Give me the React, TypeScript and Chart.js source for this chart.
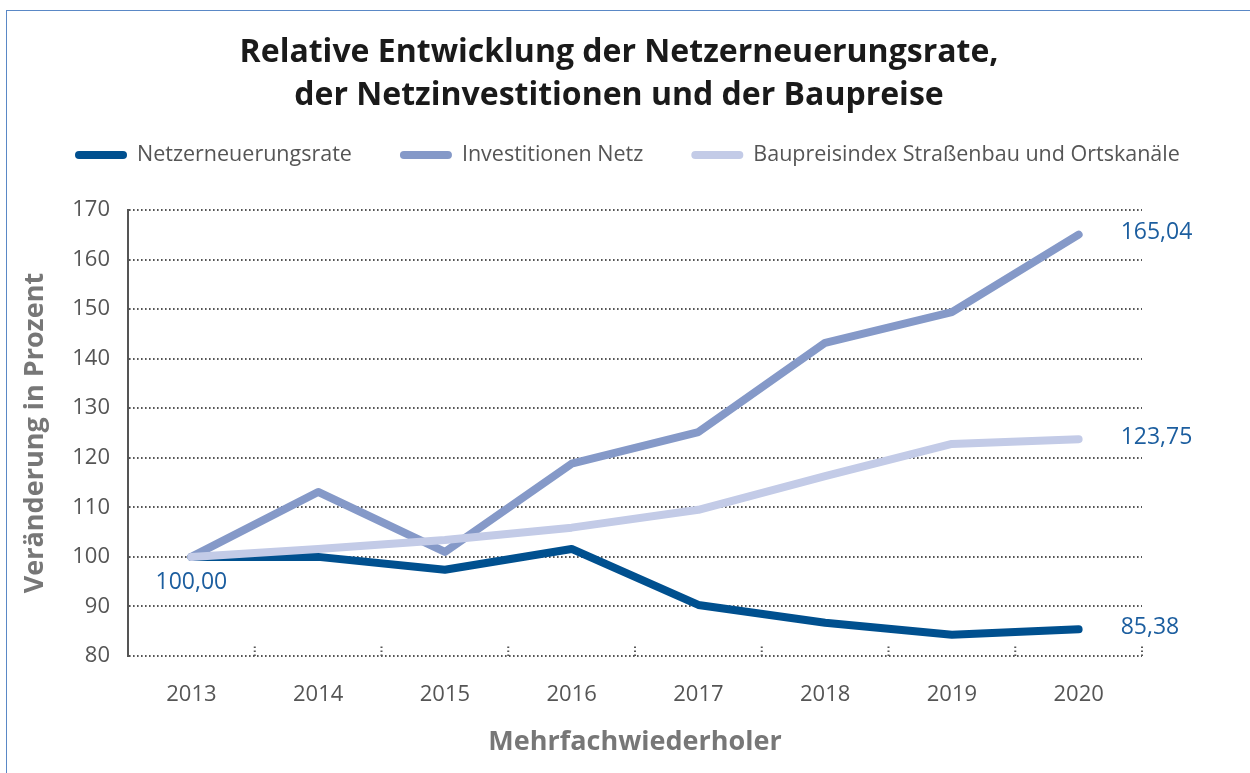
import React, { useEffect, useRef } from "react";
import { Chart, registerables } from "chart.js";

Chart.register(...registerables);

const years = ["2013", "2014", "2015", "2016", "2017", "2018", "2019", "2020"];
const netzerneuerungsrate = [100, 100, 97.4, 101.6, 90.3, 86.7, 84.3, 85.38];
const investitionenNetz = [100, 113.1, 101.0, 118.8, 125.2, 143.2, 149.4, 165.04];
const baupreisindex = [100, 101.6, 103.4, 105.9, 109.5, 116.3, 122.8, 123.75];
const seriesNames = ["Netzerneuerungsrate", "Investitionen Netz", "Baupreisindex Straßenbau und Ortskanäle"];
const seriesColors = ["#00508f", "#8599c8", "#c3cbe7"];
const titleLines = ["Relative Entwicklung der Netzerneuerungsrate,", "der Netzinvestitionen und der Baupreise"];
const yAxisTitle = "Veränderung in Prozent";
const xAxisTitle = "Mehrfachwiederholer";
const yMin = 80;
const yMax = 170;
const yStep = 10;

const FONT = "'Open Sans', 'Noto Sans', sans-serif";
const DOT = [1.6, 2.4];
const GRID = "#555555";
const LABEL_BLUE = "#1c5e9f";

const fmt = (v: number) => v.toFixed(2).replace(".", ",");

const titleLegendPlugin = {
  id: "titleLegend",
  afterDraw(chart: any) {
    const ctx = chart.ctx;
    ctx.save();
    ctx.font = `bold 32px ${FONT}`;
    ctx.fillStyle = "#1a1a1a";
    ctx.textAlign = "center";
    ctx.textBaseline = "middle";
    titleLines.forEach((t, i) => ctx.fillText(t, 619, 53 + i * 43));
    ctx.font = `21.5px ${FONT}`;
    ctx.textAlign = "left";
    const y = 155;
    let x = 75;
    chart.data.datasets.forEach((ds: any) => {
      ctx.strokeStyle = ds.borderColor;
      ctx.lineWidth = 8;
      ctx.lineCap = "round";
      ctx.beginPath();
      ctx.moveTo(x + 4, y);
      ctx.lineTo(x + 48, y);
      ctx.stroke();
      x += 62;
      ctx.fillStyle = "#555555";
      ctx.fillText(ds.label, x, y);
      x += ctx.measureText(ds.label).width + 48;
    });
    ctx.restore();
  },
};

const decorPlugin = {
  id: "decor",
  afterDatasetsDraw(chart: any) {
    const ctx = chart.ctx;
    const xs = chart.scales.x;
    const ys = chart.scales.y;
    const area = chart.chartArea;
    ctx.save();
    ctx.strokeStyle = GRID;
    ctx.lineWidth = 2;
    ctx.setLineDash(DOT);
    const n = chart.data.labels.length;
    for (let i = 0; i < n; i++) {
      const bx = i < n - 1 ? (xs.getPixelForValue(i) + xs.getPixelForValue(i + 1)) / 2 : area.right;
      ctx.beginPath();
      ctx.moveTo(bx, area.bottom);
      ctx.lineTo(bx, area.bottom - 12);
      ctx.stroke();
    }
    ctx.setLineDash([]);
    ctx.font = `23px ${FONT}`;
    ctx.fillStyle = LABEL_BLUE;
    ctx.textBaseline = "middle";
    const first = chart.data.datasets[0].data[0];
    ctx.textAlign = "center";
    ctx.fillText(fmt(first), xs.getPixelForValue(0), ys.getPixelForValue(first) + 26);
    ctx.textAlign = "left";
    chart.data.datasets.forEach((ds: any) => {
      const last = ds.data[ds.data.length - 1];
      ctx.fillText(fmt(last), xs.getPixelForValue(n - 1) + 42, ys.getPixelForValue(last) - 2);
    });
    ctx.restore();
  },
};

export default function App() {
  const ref = useRef<HTMLCanvasElement>(null);
  useEffect(() => {
    if (!ref.current) return;
    const series = [netzerneuerungsrate, investitionenNetz, baupreisindex];
    const order = [2, 1, 0];
    const chart = new Chart(ref.current, {
      type: "line",
      data: {
        labels: years,
        datasets: series.map((d, i) => ({
          label: seriesNames[i],
          data: d,
          borderColor: seriesColors[i],
          backgroundColor: seriesColors[i],
          borderWidth: 8,
          borderCapStyle: "round",
          borderJoinStyle: "round",
          pointRadius: 0,
          tension: 0,
          order: order[i],
        })),
      },
      options: {
        responsive: false,
        animation: false,
        devicePixelRatio: 1,
        layout: { padding: { left: 19, right: 108, top: 210, bottom: 14 } },
        plugins: {
          legend: { display: false },
          tooltip: { enabled: false },
          title: { display: false },
        },
        scales: {
          x: {
            offset: true,
            grid: { display: false, offset: true },
            border: { display: false },
            ticks: { color: "#555555", font: { family: FONT, size: 22 }, padding: 18 },
            title: {
              display: true,
              text: xAxisTitle,
              color: "#777777",
              font: { family: FONT, size: 27, weight: "bold" },
              padding: { top: 10, bottom: 0 },
            },
            afterFit: (s: any) => { s.height = 103; },
          },
          y: {
            min: yMin,
            max: yMax,
            ticks: { stepSize: yStep, color: "#555555", font: { family: FONT, size: 22 }, padding: 18 },
            grid: { color: GRID, lineWidth: 2, drawTicks: false },
            border: { display: true, dash: DOT, color: GRID, width: 2 },
            title: {
              display: true,
              text: yAxisTitle,
              color: "#777777",
              font: { family: FONT, size: 27, weight: "bold" },
              padding: 0,
            },
            afterFit: (s: any) => { s.width = 109; },
          },
        },
      },
      plugins: [titleLegendPlugin, decorPlugin],
    });
    (chart.options.scales as any).y.grid.borderDash = DOT;
    chart.update();
    return () => chart.destroy();
  }, []);

  return (
    <div style={{ position: "absolute", left: 0, top: 0, width: 1250, height: 773, overflow: "hidden", background: "#fff" }}>
      <div
        style={{
          position: "absolute",
          left: 6,
          top: 10,
          width: 1300,
          height: 800,
          borderLeft: "1.5px solid #5a88c6",
          borderTop: "1.5px solid #5a88c6",
        }}
      />
      <canvas ref={ref} width={1250} height={773} style={{ position: "absolute", left: 0, top: 0, width: 1250, height: 773 }} />
    </div>
  );
}
